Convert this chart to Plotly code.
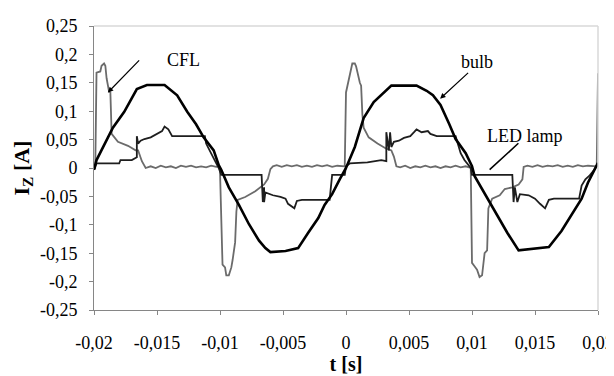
import plotly.graph_objects as go

# ---------------- data ----------------
bulb_t = [-0.02, -0.0198, -0.0185, -0.0176, -0.0166, -0.0158, -0.0144, -0.0134, -0.0126, -0.0119,
          -0.0113, -0.0105, -0.0101, -0.0099, -0.0093, -0.0085, -0.0077, -0.0069, -0.0064, -0.006,
          -0.0048, -0.0038, -0.003, -0.0022, -0.0017, -0.0011, -0.0005, 0.0, 0.0007, 0.0014,
          0.0022, 0.003, 0.0036, 0.0056, 0.0064, 0.0069, 0.0075, 0.0082, 0.0087, 0.0095,
          0.01, 0.0102, 0.0111, 0.012, 0.0128, 0.0137, 0.0161, 0.0171, 0.0179, 0.0187,
          0.0192, 0.0197, 0.02]
bulb_i = [-0.003, 0.014, 0.071, 0.099, 0.139, 0.146, 0.146, 0.128, 0.099, 0.077,
          0.054, 0.031, 0.005, -0.003, -0.034, -0.065, -0.099, -0.128, -0.141, -0.148,
          -0.146, -0.141, -0.114, -0.088, -0.065, -0.046, -0.020, 0.0, 0.037, 0.088,
          0.116, 0.133, 0.145, 0.145, 0.136, 0.128, 0.111, 0.077, 0.051, 0.026,
          0.003, -0.014, -0.048, -0.082, -0.114, -0.145, -0.139, -0.111, -0.082, -0.054,
          -0.026, -0.003, 0.009]

cfl_t = [-0.02, -0.0199, -0.0198, -0.0195, -0.0194, -0.0192, -0.0191, -0.019, -0.0188, -0.0187,
         -0.0186, -0.0181, -0.0173, -0.0167, -0.0165, -0.0162, -0.0159,
         -0.0155, -0.0151, -0.0147, -0.0143, -0.0139, -0.0135, -0.0131, -0.0127, -0.0123, -0.0119,
         -0.0115, -0.0111, -0.0107, -0.0103,
         -0.0101, -0.01, -0.0099, -0.0098, -0.0096, -0.0095, -0.0093, -0.0091, -0.009, -0.0088,
         -0.0087, -0.0086, -0.008, -0.0072, -0.0065, -0.0062, -0.006, -0.0058,
         -0.0055, -0.0051, -0.0047, -0.0043, -0.0039, -0.0035, -0.0031, -0.0027, -0.0023, -0.0019,
         -0.0015, -0.0011, -0.0007, -0.0003,
         -0.0001, 0.0, 0.0003, 0.0005, 0.0007, 0.0008, 0.0011, 0.0012, 0.0013, 0.0014,
         0.0018, 0.0025, 0.0032, 0.0036, 0.0038, 0.004,
         0.0043, 0.0047, 0.0051, 0.0055, 0.0059, 0.0063, 0.0067, 0.0071, 0.0075, 0.0079,
         0.0083, 0.0087, 0.0091, 0.0095,
         0.0099, 0.01, 0.0102, 0.0104, 0.0106, 0.0108, 0.011, 0.0112, 0.0113, 0.0116,
         0.0122, 0.0126, 0.0132, 0.0137, 0.014, 0.0141,
         0.0144, 0.0148, 0.0152, 0.0156, 0.016, 0.0164, 0.0168, 0.0172, 0.0176, 0.018,
         0.0184, 0.0188, 0.0192, 0.0196,
         0.0199, 0.02]
cfl_i = [-0.003, 0.0, 0.168, 0.17, 0.18, 0.184, 0.18, 0.158, 0.134, 0.133,
         0.06, 0.046, 0.039, 0.031, 0.031, 0.012, 0.0,
         0.003, 0.0, 0.004, 0.001, 0.003, 0.0, 0.004, 0.002, 0.004, 0.001,
         0.003, 0.001, 0.004, 0.002,
         0.003, -0.005, -0.077, -0.17, -0.175, -0.189, -0.189, -0.175, -0.162, -0.131,
         -0.077, -0.056, -0.051, -0.041, -0.029, -0.019, -0.002, 0.003,
         0.005, 0.002, 0.005, 0.003, 0.005, 0.002, 0.004, 0.002, 0.005, 0.003,
         0.005, 0.002, 0.004, 0.003,
         0.003, 0.133, 0.167, 0.184, 0.184, 0.179, 0.15, 0.145, 0.094, 0.071,
         0.054, 0.043, 0.034, 0.031, 0.02, 0.003,
         0.001, 0.004, 0.0, 0.003, 0.001, 0.004, 0.001, 0.003, 0.0, 0.003,
         0.001, 0.004, 0.001, 0.003,
         0.0, -0.167, -0.173, -0.179, -0.192, -0.189, -0.15, -0.145, -0.071, -0.054,
         -0.048, -0.037, -0.034, -0.029, -0.02, 0.002,
         0.004, 0.002, 0.005, 0.002, 0.004, 0.003, 0.005, 0.002, 0.004, 0.002,
         0.005, 0.003, 0.004, 0.003,
         0.003, 0.167]

led_t = [-0.02, -0.0198, -0.018, -0.0179, -0.017, -0.0167, -0.0166, -0.0166, -0.0165, -0.0163,
         -0.016, -0.0155, -0.015, -0.0146, -0.0144, -0.0141, -0.0138, -0.0112, -0.0111, -0.0108,
         -0.0105, -0.0101, -0.0099, -0.0067, -0.0066, -0.0065, -0.0065, -0.0064, -0.0058, -0.0052,
         -0.0048, -0.0046, -0.0041, -0.0039, -0.0035, -0.0013, -0.0011, -0.0001, 0.0, 0.0003,
         0.0017, 0.0028, 0.0032, 0.0032, 0.0034, 0.0035, 0.0036, 0.0038, 0.0042, 0.0046,
         0.0051, 0.0054, 0.0056, 0.006, 0.0065, 0.0067, 0.0072, 0.0087, 0.0089, 0.0091,
         0.0094, 0.0099, 0.01, 0.0132, 0.0133, 0.0134, 0.0136, 0.0138, 0.0145, 0.015,
         0.0154, 0.0158, 0.0161, 0.0165, 0.0185, 0.0187, 0.019, 0.0193, 0.0197, 0.02]
led_i = [-0.003, 0.008, 0.008, 0.014, 0.014, 0.017, 0.019, 0.056, 0.043, 0.048,
         0.051, 0.054, 0.06, 0.065, 0.073, 0.068, 0.056, 0.056, 0.043, 0.031,
         0.017, 0.0, -0.012, -0.012, -0.06, -0.034, -0.06, -0.043, -0.048, -0.051,
         -0.054, -0.063, -0.071, -0.058, -0.056, -0.056, -0.012, -0.012, 0.003, 0.008,
         0.01, 0.014, 0.012, 0.063, 0.031, 0.063, 0.037, 0.046, 0.048, 0.053,
         0.056, 0.063, 0.068, 0.063, 0.065, 0.06, 0.056, 0.056, 0.039, 0.026,
         0.014, 0.0, -0.012, -0.012, -0.06, -0.034, -0.06, -0.046, -0.048, -0.054,
         -0.063, -0.071, -0.056, -0.054, -0.054, -0.031, -0.02, -0.014, -0.003, 0.008]

x_tickvals = [-0.02, -0.015, -0.01, -0.005, 0, 0.005, 0.01, 0.015, 0.02]
x_ticktext = ["-0,02", "-0,015", "-0,01", "-0,005", "0", "0,005", "0,01", "0,015", "0,02"]
y_tickvals = [0.25, 0.2, 0.15, 0.1, 0.05, 0, -0.05, -0.1, -0.15, -0.2, -0.25]
y_ticktext = ["0,25", "0,2", "0,15", "0,1", "0,05", "0", "-0,05", "-0,1", "-0,15", "-0,2", "-0,25"]

FONT = "Liberation Serif, Times New Roman, serif"

fig = go.Figure()
fig.add_trace(go.Scatter(x=cfl_t, y=cfl_i, mode="lines", name="CFL",
                         line=dict(color="#6b6b6b", width=1.8)))
fig.add_trace(go.Scatter(x=led_t, y=led_i, mode="lines", name="LED lamp",
                         line=dict(color="#1e1e1e", width=1.8)))
fig.add_trace(go.Scatter(x=bulb_t, y=bulb_i, mode="lines", name="bulb",
                         line=dict(color="#000000", width=2.6)))

ann_font = dict(family=FONT, size=18, color="black")
fig.add_annotation(x=-0.0189, y=0.133, ax=-0.0163, ay=0.192, xref="x", yref="y",
                   axref="x", ayref="y", showarrow=True, arrowhead=2, arrowsize=0.9,
                   arrowwidth=1.2, arrowcolor="black", text="")
fig.add_annotation(x=-0.0129, y=0.19, text="CFL", showarrow=False, font=ann_font)
fig.add_annotation(x=0.00747, y=0.122, ax=0.00981, ay=0.170, xref="x", yref="y",
                   axref="x", ayref="y", showarrow=True, arrowhead=2, arrowsize=0.9,
                   arrowwidth=1.2, arrowcolor="black", text="")
fig.add_annotation(x=0.0104, y=0.187, text="bulb", showarrow=False, font=ann_font)
fig.add_annotation(x=0.0114, y=-0.003, ax=0.0138, ay=0.046, xref="x", yref="y",
                   axref="x", ayref="y", showarrow=True, arrowhead=0,
                   arrowwidth=1.6, arrowcolor="black", text="")
fig.add_annotation(x=0.0142, y=0.056, text="LED lamp", showarrow=False, font=ann_font)

# light top/right frame of the plot area
fig.add_shape(type="line", xref="paper", yref="paper", x0=0, x1=1, y0=1, y1=1,
              line=dict(color="#d9d9d9", width=1.5))
fig.add_shape(type="line", xref="paper", yref="paper", x0=1, x1=1, y0=0, y1=1,
              line=dict(color="#d9d9d9", width=1.5))

fig.update_layout(
    width=614, height=376,
    margin=dict(l=86, r=17, t=8, b=74),
    plot_bgcolor="white", paper_bgcolor="white",
    showlegend=False,
    font=dict(family=FONT, size=18, color="black"),
)
fig.update_xaxes(range=[-0.02, 0.02], tickvals=x_tickvals, ticktext=x_ticktext,
                 showgrid=False, zeroline=False, showline=True, linecolor="#868686",
                 linewidth=1, ticks="outside", ticklen=4, tickcolor="#868686",
                 ticklabelstandoff=12, ticklabeloverflow="allow",
                 tickfont=dict(family=FONT, size=18, color="black"),
                 title=dict(text="<b>t [s]</b>", font=dict(family=FONT, size=20, color="black"),
                            standoff=4))
fig.update_yaxes(range=[-0.25, 0.25], tickvals=y_tickvals, ticktext=y_ticktext,
                 showgrid=False, zeroline=False, showline=True, linecolor="#868686",
                 linewidth=1, ticks="outside", ticklen=4, tickcolor="#868686",
                 ticklabelstandoff=8, ticklabeloverflow="allow",
                 tickfont=dict(family=FONT, size=18, color="black"),
                 title=dict(text="<b>I<sub>Z</sub> [A]</b>",
                            font=dict(family=FONT, size=22, color="black"), standoff=4))

fig.write_html("out.html")
